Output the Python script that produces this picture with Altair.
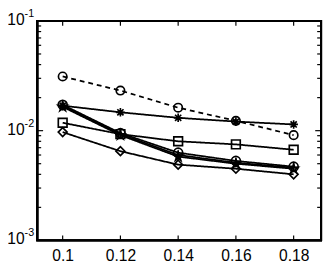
import altair as alt
import pandas as pd

# ---- data ----
x_vals = [0.10, 0.12, 0.14, 0.16, 0.18]
s_circle_dash = [0.0312, 0.0232, 0.0162, 0.0123, 0.0091]
s_asterisk = [0.0169, 0.0147, 0.0131, 0.0121, 0.0114]
s_square = [0.0118, 0.0093, 0.0080, 0.0075, 0.0067]
s_diamond = [0.0097, 0.0065, 0.0049, 0.0045, 0.0040]
s_circle = [0.0172, 0.0095, 0.0063, 0.0053, 0.0047]
s_plus = [0.0168, 0.0093, 0.0060, 0.0051, 0.0046]
s_star = [0.0165, 0.0091, 0.0058, 0.0050, 0.0045]

series_names = ["circle_dash", "asterisk", "square", "diamond", "circle", "plus", "star"]
series_values = [s_circle_dash, s_asterisk, s_square, s_diamond, s_circle, s_plus, s_star]

x_ticks = [0.10, 0.12, 0.14, 0.16, 0.18]
y_major = [0.001, 0.01, 0.1]
y_exponents = ["-3", "-2", "-1"]
y_minor = [k * 10.0 ** e for e in (-3, -2) for k in range(2, 10)]

# ---- styling ----
W, H = 291, 225
FONT = "Liberation Sans"

ASTERISK = "M0,-1L0,1M-1,0L1,0M-0.72,-0.72L0.72,0.72M-0.72,0.72L0.72,-0.72"
PLUS = "M-1,0L1,0M0,-1L0,1"
STAR = ("M0,-1L0.225,-0.309L0.951,-0.309L0.363,0.118L0.588,0.809L0,0.382"
        "L-0.588,0.809L-0.363,0.118L-0.951,-0.309L-0.225,-0.309Z")

shape_range = ["circle", ASTERISK, "square", "diamond", "circle", PLUS, STAR]
size_range = [75, 90, 64, 100, 75, 80, 120]
dash_range = [[5, 4], [1, 0], [1, 0], [1, 0], [1, 0], [1, 0], [1, 0]]

rows = []
for name, vals in zip(series_names, series_values):
    for xv, yv in zip(x_vals, vals):
        rows.append({"series": name, "x": xv, "y": yv})
df = pd.DataFrame(rows)

xscale = alt.Scale(domain=[0.0912, 0.1895], nice=False, zero=False)
yscale = alt.Scale(type="log", domain=[0.001, 0.1], nice=False)
xaxis = alt.Axis(values=x_ticks, format=".2~f", ticks=False, domain=False, grid=False,
                 labelFont=FONT, labelFontSize=16, labelColor="black", labelPadding=8,
                 title=None)

X = alt.X("x:Q", scale=xscale, axis=xaxis)
Y = alt.Y("y:Q", scale=yscale, axis=None)

lines = alt.Chart(df).mark_line(color="black", strokeWidth=1.8).encode(
    x=X, y=Y, detail="series:N",
    strokeDash=alt.StrokeDash("series:N", scale=alt.Scale(domain=series_names, range=dash_range), legend=None),
)

points = alt.Chart(df).mark_point(filled=False, color="black", strokeWidth=1.7, opacity=1).encode(
    x=X, y=Y,
    shape=alt.Shape("series:N", scale=alt.Scale(domain=series_names, range=shape_range), legend=None),
    size=alt.Size("series:N", scale=alt.Scale(domain=series_names, range=size_range), legend=None),
)

minor_df = pd.DataFrame({"y": y_minor})
major_df = pd.DataFrame({"y": y_major, "exp": y_exponents, "base": ["10"] * len(y_major)})
xt_df = pd.DataFrame({"x": x_ticks})

def yrule(data, x0, x1):
    return alt.Chart(data).mark_rule(color="black", strokeWidth=1.2).encode(
        y=Y, x=alt.value(x0), x2=alt.value(x1))

def xrule(y0, y1):
    return alt.Chart(xt_df).mark_rule(color="black", strokeWidth=1.2).encode(
        x=X, y=alt.value(y0), y2=alt.value(y1))

ticks = [
    yrule(minor_df, 0, 4), yrule(minor_df, W, W - 4),
    yrule(major_df, 0, 6), yrule(major_df, W, W - 6),
    xrule(H, H - 5), xrule(0, 5),
]

frame = alt.Chart(xt_df).mark_rect(fill=None, stroke="black", strokeWidth=2).encode(
    x=alt.value(0), x2=alt.value(W), y=alt.value(0), y2=alt.value(H))

base_lbl = alt.Chart(major_df).mark_text(
    font=FONT, fontSize=16, align="right", baseline="middle", dy=-1, color="black"
).encode(y=Y, x=alt.value(-13), text="base:N")
exp_lbl = alt.Chart(major_df).mark_text(
    font=FONT, fontSize=11, align="left", baseline="middle", dy=-7, color="black"
).encode(y=Y, x=alt.value(-13), text="exp:N")

chart = alt.layer(lines, *ticks, points, frame, base_lbl, exp_lbl).properties(
    width=W, height=H,
    autosize=alt.AutoSizeParams(type="none"),
    padding={"left": 30, "top": 10, "right": 3, "bottom": 24},
).configure_view(stroke=None).configure(background="white")

chart.save("out.html", embed_options={"renderer": "svg", "actions": False})
